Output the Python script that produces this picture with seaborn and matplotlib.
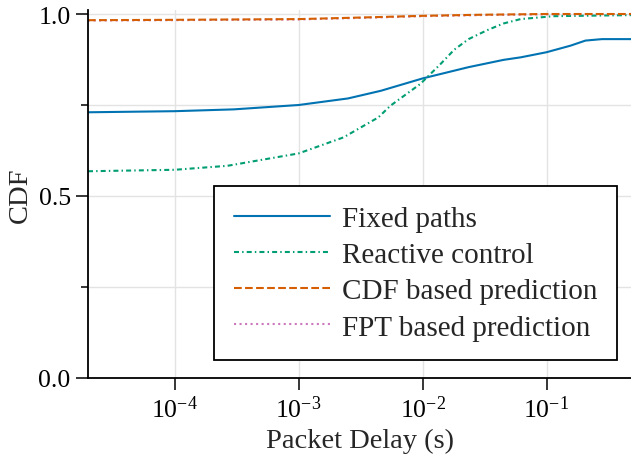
import numpy as np
import pandas as pd
import matplotlib
matplotlib.use("Agg")
import matplotlib.pyplot as plt
import seaborn as sns
from matplotlib.ticker import FixedLocator, NullLocator

# Packet delay (s) and cumulative fraction for each strategy
fixed_delay = [2.0e-5, 1.0e-4, 3.0e-4, 1.0e-3, 2.5e-3, 4.6e-3, 1.0e-2, 2.35e-2,
               4.5e-2, 6.2e-2, 1.0e-1, 1.56e-1, 2.06e-1, 2.8e-1, 0.5]
fixed_cdf = [0.730, 0.733, 0.738, 0.750, 0.768, 0.789, 0.823, 0.854,
             0.874, 0.881, 0.895, 0.913, 0.927, 0.931, 0.931]

reactive_delay = [2.0e-5, 1.0e-4, 2.67e-4, 1.0e-3, 2.3e-3, 4.4e-3, 5.5e-3, 9.6e-3,
                  1.4e-2, 1.8e-2, 2.35e-2, 3.34e-2, 4.5e-2, 6.17e-2, 1.14e-1, 0.5]
reactive_cdf = [0.568, 0.572, 0.583, 0.617, 0.661, 0.716, 0.748, 0.808,
                0.863, 0.902, 0.931, 0.956, 0.974, 0.986, 0.994, 0.997]

cdf_pred_delay = [2.0e-5, 1.0e-4, 1.0e-3, 3.8e-3, 1.0e-2, 3.0e-2, 1.0e-1, 0.5]
cdf_pred_cdf = [0.983, 0.984, 0.986, 0.991, 0.995, 0.998, 1.000, 1.000]

fpt_pred_delay = [2.0e-5, 1.0e-4, 1.0e-3, 3.8e-3, 1.0e-2, 3.0e-2, 1.0e-1, 0.5]
fpt_pred_cdf = [0.982, 0.983, 0.985, 0.990, 0.994, 0.997, 0.999, 1.000]

labels = ["Fixed paths", "Reactive control", "CDF based prediction", "FPT based prediction"]
xlabel = "Packet Delay (s)"
ylabel = "CDF"

sns.set_theme(style="ticks")
plt.rcParams["font.family"] = ["Liberation Serif", "DejaVu Serif"]
plt.rcParams["mathtext.fontset"] = "custom"
plt.rcParams["mathtext.rm"] = "Liberation Serif"
plt.rcParams["mathtext.it"] = "Liberation Serif:italic"
plt.rcParams["mathtext.bf"] = "Liberation Serif:bold"

palette = sns.color_palette("colorblind")
colors = [palette[0], palette[2], palette[3], palette[4]]
styles = ["-", (0, (2.4, 1.5, 0.7, 1.5)), "--", ":"]

fig = plt.figure(figsize=(6.31, 4.64), dpi=100)
W, H = 631, 464
x0, y_zero, y_one = 88, 379, 15
ymax = 1.01
top = y_zero - (y_zero - y_one) * ymax
ax = fig.add_axes([x0 / W, 1 - y_zero / H, (W - x0) / W, (y_zero - top) / H])

series = [
    (fixed_delay, fixed_cdf),
    (reactive_delay, reactive_cdf),
    (cdf_pred_delay, cdf_pred_cdf),
    (fpt_pred_delay, fpt_pred_cdf),
]
# pink goes down first so the orange dashes sit over it; legend order is fixed below
for i in [0, 1, 3, 2]:
    xs, ys = series[i]
    df = pd.DataFrame({"delay": xs, "cdf": ys})
    sns.lineplot(data=df, x="delay", y="cdf", ax=ax, color=colors[i],
                 linestyle=styles[i], linewidth=1.5, label=labels[i])

ax.set_xscale("log")
ax.set_xlim(2.0e-5, 0.48)
ax.set_ylim(0, ymax)

ax.xaxis.set_major_locator(FixedLocator([1e-4, 1e-3, 1e-2, 1e-1]))
ax.xaxis.set_minor_locator(NullLocator())
ax.set_xticklabels([r"$10^{-4}$", r"$10^{-3}$", r"$10^{-2}$", r"$10^{-1}$"])
ax.yaxis.set_major_locator(FixedLocator([0.0, 0.5, 1.0]))
ax.yaxis.set_minor_locator(FixedLocator([0.25, 0.75]))
ax.set_yticklabels(["0.0", "0.5", "1.0"])

ax.tick_params(axis="both", which="major", direction="out", length=8.5, width=1.1,
               labelsize=18.5, color="black", labelcolor="black", pad=4)
ax.tick_params(axis="y", which="minor", direction="out", length=5, width=1.1,
               color="black")

ax.grid(True, which="major", color="#e3e3e3", linewidth=1.0)
ax.grid(True, which="minor", axis="y", color="#e3e3e3", linewidth=1.0)
ax.set_axisbelow(True)

sns.despine(ax=ax)
for s in ["left", "bottom"]:
    ax.spines[s].set_linewidth(1.3)
    ax.spines[s].set_color("black")

ax.set_xlabel(xlabel, fontsize=20.5, labelpad=4)
ax.set_ylabel(ylabel, fontsize=20.5, labelpad=4)

h, l = ax.get_legend_handles_labels()
lookup = dict(zip(l, h))
leg = ax.legend([lookup[k] for k in labels], labels, loc="lower right",
                bbox_to_anchor=(0.975, 0.048), borderaxespad=0, fontsize=21,
                frameon=True, fancybox=False, edgecolor="black", framealpha=1.0,
                handlelength=3.3, handletextpad=0.4, labelspacing=0.33,
                borderpad=0.68)
leg.get_frame().set_linewidth(1.3)

fig.savefig("out.png", dpi=100)
